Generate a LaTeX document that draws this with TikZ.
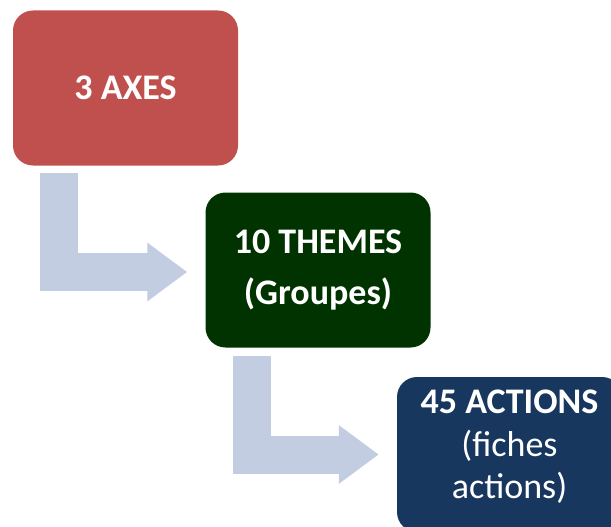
\documentclass[tikz,border=0pt]{standalone}
\usepackage{fontspec}
\setmainfont{Carlito}
\usepackage{xcolor}
\usepackage{tikz}
\usetikzlibrary{arrows.meta}
\definecolor{axered}{HTML}{C0504D}
\definecolor{themegreen}{HTML}{003300}
\definecolor{actionblue}{HTML}{17375E}
\definecolor{flowblue}{HTML}{C3CDE2}
\tikzset{
	main box/.style={rectangle,rounded corners=20pt,minimum width=225pt,minimum height=155pt,
		text=white,align=center,font=\fontsize{36}{42}\selectfont},
	flow arrow/.style={draw=flowblue,line width=38pt,line join=miter,
		-{Triangle[length=40pt,width=56pt]}}
}

\begin{document}
\begin{tikzpicture}[x=1pt,y=-1pt]
	\useasboundingbox (0,0) rectangle (611,527);
	\node [main box,fill=axered] (axes) at (125.5,88) {\bfseries 3 AXES};
	\node [main box,fill=themegreen] (themes) at (318,270) {\bfseries 10 THEMES\\[9pt]\bfseries (Groupes)};
	\node [main box,fill=actionblue,text depth=21pt] (actions) at (509.5,454.5) {\bfseries 45 ACTIONS\\[1pt](fiches\\actions)};
	\draw [flow arrow] ([xshift=46pt,yshift=-7pt]axes.south west) |- ([xshift=-18pt,yshift=-2pt]themes.west);
	\draw [flow arrow] ([xshift=46.5pt,yshift=-8pt]themes.south west) |- ([xshift=-18pt]actions.west);
\end{tikzpicture}
\end{document}
